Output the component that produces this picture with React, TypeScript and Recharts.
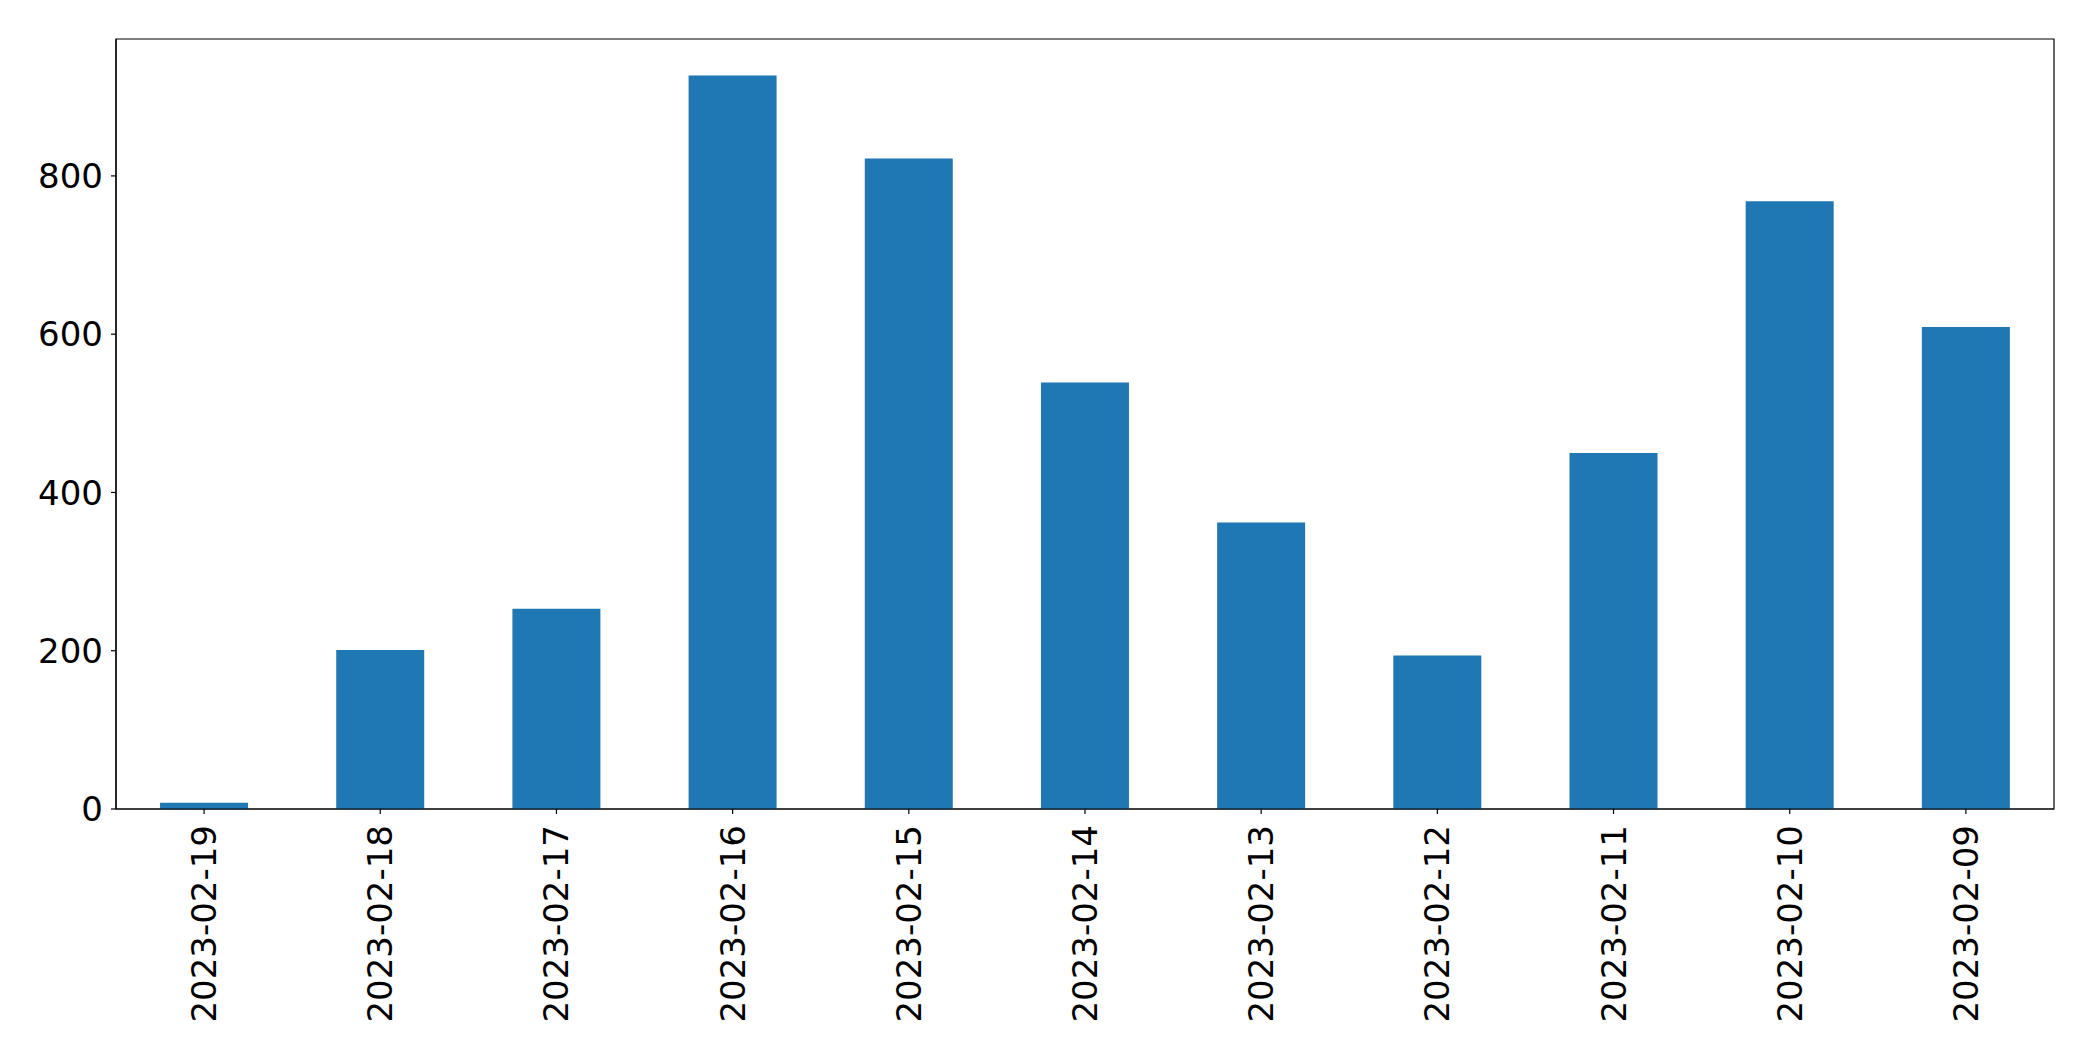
import { Bar, BarChart, ReferenceArea, XAxis, YAxis } from "recharts";

const dates = [
  "2023-02-19",
  "2023-02-18",
  "2023-02-17",
  "2023-02-16",
  "2023-02-15",
  "2023-02-14",
  "2023-02-13",
  "2023-02-12",
  "2023-02-11",
  "2023-02-10",
  "2023-02-09",
];
const counts = [8, 201, 253, 927, 822, 539, 362, 194, 450, 768, 609];
const yTicks = [0, 200, 400, 600, 800];
const yMax = 973;

const data = dates.map((date, i) => ({ date, count: counts[i] }));

const FONT = "'DejaVu Sans', sans-serif";

function DateTick({ x, y, payload }: any) {
  return (
    <text
      x={x}
      y={y}
      transform={`rotate(-90 ${x} ${y})`}
      textAnchor="end"
      dominantBaseline="central"
      fontFamily={FONT}
      fontSize={34}
      fill="#000"
    >
      {payload.value}
    </text>
  );
}

export default function App() {
  return (
    <div style={{ position: "absolute", left: 0, top: 0, background: "#fff" }}>
      <BarChart
        width={2093}
        height={1061}
        data={data}
        margin={{ top: 39, right: 39, left: 0, bottom: 0 }}
        barCategoryGap="25%"
      >
        <XAxis
          dataKey="date"
          height={252}
          tick={<DateTick />}
          tickSize={5}
          tickMargin={11}
          interval={0}
          axisLine={{ stroke: "#000", strokeWidth: 1.2 }}
          tickLine={{ stroke: "#000", strokeWidth: 1.2 }}
        />
        <YAxis
          width={116}
          domain={[0, yMax]}
          ticks={yTicks}
          tickSize={5}
          tickMargin={8}
          tick={{ fontFamily: FONT, fontSize: 34, fill: "#000" }}
          axisLine={{ stroke: "#000", strokeWidth: 1.2 }}
          tickLine={{ stroke: "#000", strokeWidth: 1.2 }}
        />
        <Bar dataKey="count" fill="#1f77b4" isAnimationActive={false} />
        <ReferenceArea
          y1={0}
          y2={yMax}
          fill="none"
          fillOpacity={0}
          stroke="#000"
          strokeWidth={1.2}
          ifOverflow="visible"
        />
      </BarChart>
    </div>
  );
}
